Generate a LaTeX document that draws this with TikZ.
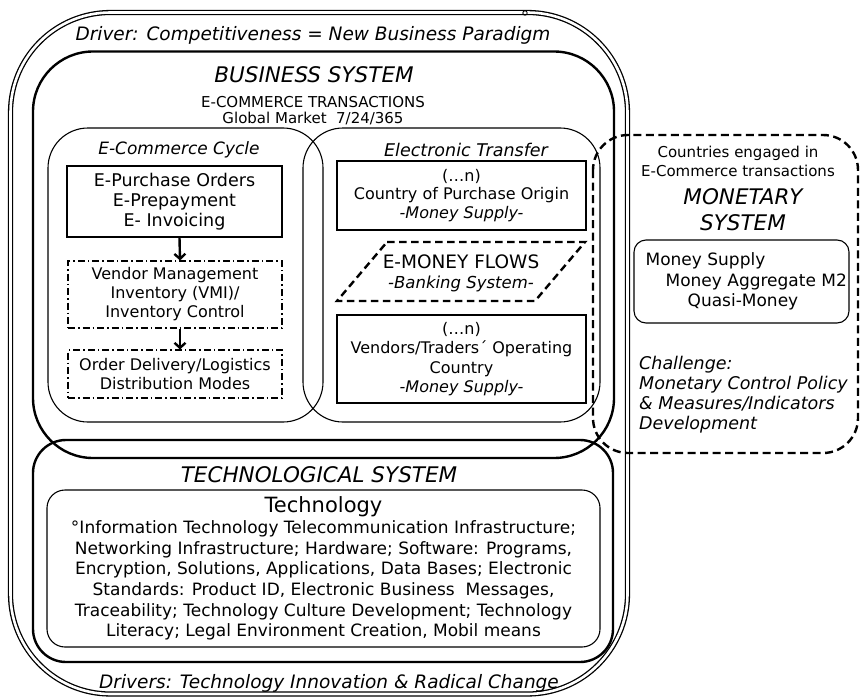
\documentclass[tikz,border=0pt]{standalone}
\usepackage{fontspec}
\setmainfont{DejaVu Sans}
\usepackage{tikz}
\usetikzlibrary{arrows.meta}
\tikzset{
	outerframe/.style={double, line width=1.3pt, double distance=2.6pt, rounded corners=100pt},
	sysframe/.style={line width=2.4pt, rounded corners=#1},
	sysframe/.default=60pt,
	cycleframe/.style={line width=1.1pt, rounded corners=40pt},
	monframe/.style={line width=2.4pt, dash pattern=on 8pt off 4.5pt, rounded corners=35pt},
	flowframe/.style={line width=2.4pt, dash pattern=on 7.5pt off 4.5pt},
	plainbox/.style={draw, line width=1.1pt, inner sep=0pt, align=center},
	dotbox/.style={plainbox, dash pattern=on 7pt off 3pt on 1.5pt off 3pt},
	flowarrow/.style={line width=2.4pt, -{Straight Barb[length=5pt, width=11pt]}},
	title/.style={align=center, font=\fontsize{21.5}{26}\selectfont\itshape},
	lbl/.style={align=center, inner sep=0pt}
}

\begin{document}
\begin{tikzpicture}[x=1pt, y=-1pt]
	\useasboundingbox (0,0) rectangle (861,698);
	
	% 外框
	\draw[outerframe] (10.5,12.5) rectangle (627.5,694);
	\draw[line width=0.9pt] (525,13) circle (2.2);
	\node (drv) at (313,35) [lbl, font=\fontsize{18.5}{22}\selectfont\itshape] {Driver: Competitiveness = New Business Paradigm};
	\node (drvs) at (329,683) [lbl, font=\fontsize{18.5}{22}\selectfont\itshape] {Drivers: Technology Innovation \& Radical Change};
	
	% 业务系统
	\draw[sysframe] (33,51.5) rectangle (614,458);
	\node (bsys) at (314,75) [title] {BUSINESS SYSTEM};
	\node (ect) at (313,110.5) [lbl, font=\fontsize{15}{15.5}\selectfont] {E-COMMERCE TRANSACTIONS\\Global Market~ 7/24/365};
	
	% 电子商务循环
	\draw[cycleframe] (48,128) rectangle (323,422);
	\node (eccy) at (179,150) [lbl, font=\fontsize{17}{20}\selectfont\itshape] {E-Commerce Cycle};
	\node (epo) at (174.5,201.5) [plainbox, minimum width=215pt, minimum height=71pt, font=\fontsize{17.5}{20}\selectfont] {E-Purchase Orders\\E-Prepayment\\E- Invoicing};
	\node (vmi) at (175,294.5) [dotbox, minimum width=214pt, minimum height=67pt, font=\fontsize{16}{19}\selectfont] {Vendor Management\\Inventory (VMI)/\\Inventory Control};
	\node (odl) at (175,374) [dotbox, minimum width=214pt, minimum height=48pt, font=\fontsize{16}{19}\selectfont] {Order Delivery/Logistics\\Distribution Modes};
	\draw[flowarrow] ([xshift=5pt]epo.south) -- ([xshift=5pt]vmi.north);
	\draw[flowarrow] ([xshift=5pt]vmi.south) -- ([xshift=5pt]odl.north);
	
	% 电子转账
	\draw[cycleframe] (303,128) rectangle (600,422);
	\node (etr) at (466,150) [lbl, font=\fontsize{17.5}{20}\selectfont\itshape] {Electronic Transfer};
	\node (cpo) at (461.5,195.5) [plainbox, minimum width=249pt, minimum height=69pt, font=\fontsize{16}{18.5}\selectfont] {(…n)\\Country of Purchase Origin\\\textit{-Money Supply-}};
	\draw[flowframe] (387,242) -- (585,242) -- (535,301) -- (337,301) -- cycle;
	\node (emf) at (461,273) [lbl, font=\fontsize{16.5}{20}\selectfont] {{\fontsize{18.5}{20}\selectfont E-MONEY FLOWS}\\\textit{-Banking System-}};
	\node (vtc) at (461.5,359) [plainbox, minimum width=249pt, minimum height=88pt, font=\fontsize{16}{19.5}\selectfont] {(…n)\\Vendors/Traders´ Operating\\Country\\\textit{-Money Supply-}};
	
	% 技术系统
	\draw[sysframe=33pt] (33,440) rectangle (613,662);
	\node (tsys) at (319,475) [title] {TECHNOLOGICAL SYSTEM};
	\node (tech) at (323.5,568.5) [plainbox, rounded corners=18pt, minimum width=553pt, minimum height=157pt, font=\fontsize{17}{20.7}\selectfont]
	{{\fontsize{21}{22}\selectfont Technology}\\
		°Information Technology Telecommunication Infrastructure;\\
		Networking Infrastructure; Hardware; Software: Programs,\\
		Encryption, Solutions, Applications, Data Bases; Electronic\\
		Standards: Product ID, Electronic Business~ Messages,\\
		Traceability; Technology Culture Development; Technology\\
		Literacy; Legal Environment Creation, Mobil means};
	
	% 货币系统
	\draw[monframe] (593,135) rectangle (858,453);
	\node (cet) at (738,161.5) [lbl, font=\fontsize{15}{19}\selectfont] {Countries engaged in\\E-Commerce transactions};
	\node (msys) at (743,210) [title] {MONETARY\\SYSTEM};
	\node (msb) at (741.5,281.5) [draw, line width=1.1pt, rounded corners=12pt, minimum width=215pt, minimum height=83pt, inner xsep=1.5pt, align=left, font=\fontsize{17}{20.5}\selectfont]
	{\hspace*{9.5pt}Money Supply\\\hspace*{29.5pt}Money Aggregate M2\\\hspace*{51.5pt}Quasi-Money};
	\node (chl) at (639,394.5) [lbl, anchor=west, align=left, font=\fontsize{17.5}{20}\selectfont\itshape] {Challenge:\\Monetary Control Policy\\\& Measures/Indicators\\Development};
\end{tikzpicture}
\end{document}
